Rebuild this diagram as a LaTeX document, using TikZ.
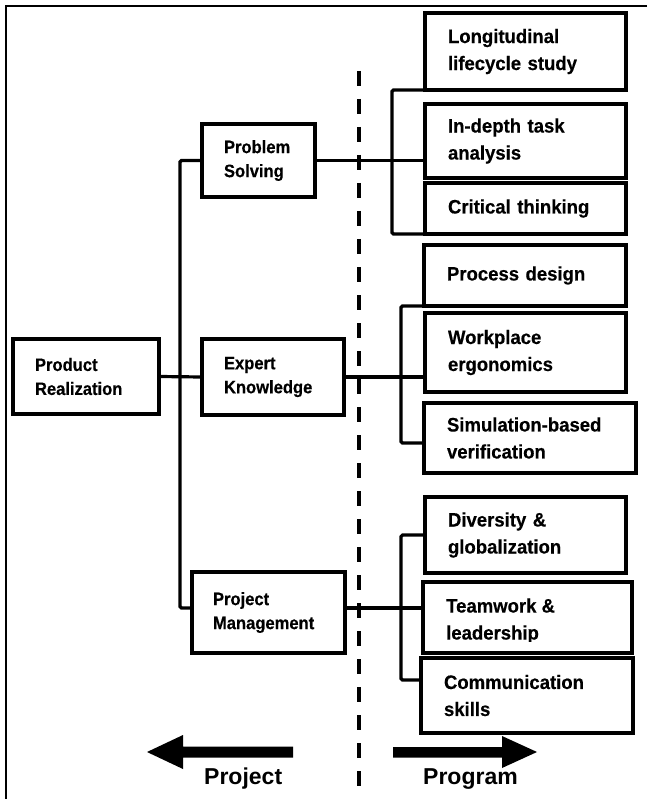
\documentclass[tikz,border=0pt]{standalone}
\usepackage{fontspec}
\setmainfont{Liberation Sans}
\newfontfamily\rboxfont[FakeStretch=0.95, BoldFeatures={FakeBold=0.4}]{Liberation Sans}
\newfontfamily\lboxfont[FakeStretch=0.92, BoldFeatures={FakeBold=0.4}]{Liberation Sans}
\usetikzlibrary{calc}
\begin{document}
\begin{tikzpicture}[x=1pt,y=-1pt,
  box/.style={draw, line width=4pt, outer sep=0pt, inner xsep=23pt, inner ysep=0pt,
    anchor=north west, align=left, font=\rboxfont\bfseries\fontsize{19.5}{27}\selectfont},
  lbox/.style={box, inner xsep=22pt, font=\lboxfont\bfseries\fontsize{18}{24}\selectfont},
  rtext/.style={inner sep=0pt, align=left, font=\rboxfont\bfseries\fontsize{19.5}{27}\selectfont},
  conn/.style={line width=3.2pt, rounded corners=1.5pt},
  bigarrow/.style={fill=black},
  biglabel/.style={inner sep=0pt, anchor=base west, font=\bfseries\fontsize{23}{27}\selectfont}]
\useasboundingbox (0,0) rectangle (647,799);
\fill[white] (0,0) rectangle (647,799);
% frame (cut off at right and bottom)
\draw[line width=2.5pt] (647,6) -- (6,6) -- (6,799);
% dashed divider
\draw[line width=3.5pt, dash pattern=on 15pt off 13pt] (359,71) -- (359,799);

% left column
\node[lbox, minimum width=146pt, minimum height=75pt, text width=102pt] (pr) at (13,339) {Product\\Realization};
\node[lbox, minimum width=113pt, minimum height=73pt, text width=69pt] (ps) at (202,124) {Problem\\Solving};
\node[lbox, minimum width=142pt, minimum height=76pt, text width=98pt] (ek) at (202,339) {Expert\\Knowledge};
\node[lbox, inner xsep=21pt, minimum width=153pt, minimum height=81pt, text width=111pt] (pm) at (192,572) {Project\\Management};

% right column
\node[box, minimum width=201pt, minimum height=77pt, text width=155pt] (r1) at (425,13) {Longitudinal\\lifecycle study};
\node[box, minimum width=201pt, minimum height=74pt, text width=155pt] (r2) at (425,104) {In-depth task\\analysis};
\node[box, minimum width=201pt, minimum height=51pt, text width=155pt] (r3) at (425,183) {Critical thinking};
\node[box, minimum width=202pt, minimum height=61pt, text width=156pt] (r4) at (424,245) {Process design};
\node[box, minimum width=201pt, minimum height=79pt, text width=155pt] (r5) at (425,313) {Workplace\\ergonomics};
\node[box, minimum width=212pt, minimum height=70pt, text width=166pt] (r6) at (424,403) {Simulation-based\\verification};
\node[box, minimum width=201pt, minimum height=76pt, text width=155pt] (r7) at (425,497) {Diversity \&\\globalization};
\node[box, minimum width=209pt, minimum height=71pt, text width=163pt] (r8) at (423,582) {};
\begin{scope}
  \clip (423,582) rectangle (632,641);
  \node[rtext, anchor=west] (t8) at (446,621) {Teamwork \&\\leadership};
\end{scope}
\node[box, minimum width=212pt, minimum height=75pt, text width=166pt] (r9) at (421,658) {Communication\\skills};

% connectors
\coordinate (tk) at (180,0);
\coordinate (b1) at (392,0);
\coordinate (b2) at (401,0);
\coordinate (pmw) at ([yshift=4.5pt]pm.west);
\coordinate (pme) at ([yshift=4.5pt]pm.east);
\coordinate (r6w) at ([yshift=-5pt]r6.west);
\coordinate (r9w) at ([yshift=15.5pt]r9.west);

\draw[conn] (ps.west) -- (ps.west -| tk) -- (pmw -| tk) -- (pmw);
\draw[conn] (pr.east) -- (ek.west);
\draw[conn] (ps.east) -- (ps.east -| r2.west);
\draw[conn] (r1.south west) -- (r1.south west -| b1) -- (r3.south west -| b1) -- (r3.south west);
\draw[conn] (ek.east) -- (ek.east -| r5.west);
\draw[conn] (r4.south west) -- (r4.south west -| b2) -- (r6w -| b2) -- (r6w);
\draw[conn] (pme) -- (pme -| r8.west);
\draw[conn] (r7.west) -- (r7.west -| b2) -- (r9w -| b2) -- (r9w);

% direction arrows
\fill[bigarrow] (147,752) -- (183,735) -- (183,746.5) -- (293,746.5) -- (293,757.5) -- (183,757.5) -- (183,769) -- cycle;
\fill[bigarrow] (537,752) -- (502,736) -- (502,747) -- (393,747) -- (393,757.5) -- (502,757.5) -- (502,768) -- cycle;
\node[biglabel] (lproj) at (204,784) {Project};
\node[biglabel] (lprog) at (423,784) {Program};
\end{tikzpicture}
\end{document}
